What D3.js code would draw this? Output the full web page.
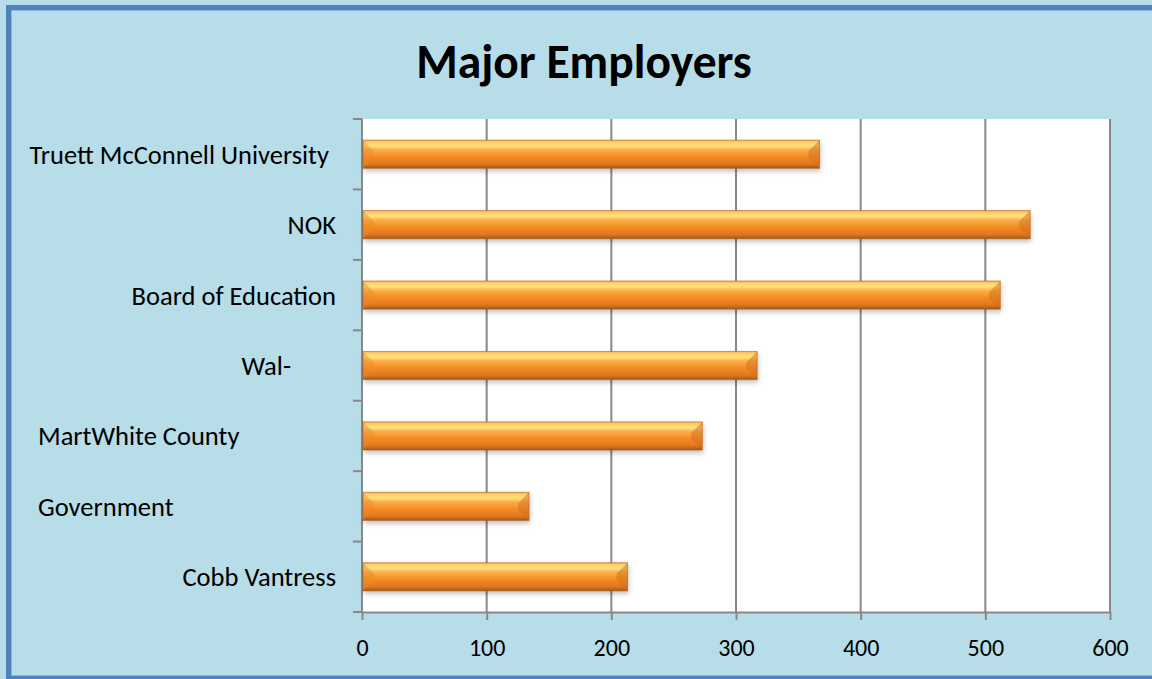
<!DOCTYPE html>
<html>
<head>
<meta charset="utf-8">
<script src="https://cdn.jsdelivr.net/npm/d3@7.9.0/dist/d3.min.js"></script>
<style>
  html, body { margin: 0; padding: 0; background: #b7dde8; overflow: hidden; }
  svg { display: block; font-family: Calibri, Carlito, Lato, sans-serif; }
</style>
</head>
<body>
<svg id="chart" width="1152" height="679"></svg>
<script>
// data, top to bottom as drawn
const employers = ['Truett McConnell University', 'NOK', 'Board of Education', 'Wal-', 'MartWhite County', 'Government', 'Cobb Vantress'];
const workers = [367, 536, 512, 317, 273, 134, 213];
const xTicks = [0, 100, 200, 300, 400, 500, 600];

// the labels in the picture are not all right-aligned (broken wrapping in the original)
const labelAlign = [
  { anchor: 'end', x: 329 },
  { anchor: 'end', x: 336 },
  { anchor: 'end', x: 336 },
  { anchor: 'end', x: 291 },
  { anchor: 'start', x: 38 },
  { anchor: 'start', x: 38 },
  { anchor: 'end', x: 336 }
];

const W = 1152, H = 679;
const plot = { left: 362, top: 119, right: 1110, bottom: 612 };
const gray = '#888888';

const svg = d3.select('#chart');
const defs = svg.append('defs');

// vertical shading of the 3d bars
const grad = defs.append('linearGradient')
  .attr('id', 'barGrad').attr('x1', 0).attr('y1', 0).attr('x2', 0).attr('y2', 1);
[
  [0, '#f9a850'], [0.08, '#ffd46a'], [0.2, '#ffe17c'], [0.35, '#fbac4a'],
  [0.6, '#f58a22'], [0.85, '#e0771f'], [0.95, '#b8641c'], [1, '#8e4e16']
].forEach(([o, c]) => grad.append('stop').attr('offset', o).attr('stop-color', c));

const shadow = defs.append('filter').attr('id', 'shadow')
  .attr('x', '-5%').attr('y', '-30%').attr('width', '110%').attr('height', '180%');
shadow.append('feDropShadow').attr('dx', 1).attr('dy', 3).attr('stdDeviation', 2.5)
  .attr('flood-color', '#000').attr('flood-opacity', 0.25);

// background + frame
svg.append('rect').attr('width', W).attr('height', H).attr('fill', '#b7dde8');
svg.append('rect').attr('x', 8.5).attr('y', 7.5).attr('width', 1300).attr('height', 671)
  .attr('fill', 'none').attr('stroke', '#4f81bd').attr('stroke-width', 5);
svg.append('rect').attr('x', 11.5).attr('y', 10.5).attr('width', 1300).attr('height', 665)
  .attr('fill', 'none').attr('stroke', '#8fb3dc').attr('stroke-width', 1);

// title
svg.append('text')
  .attr('x', 584).attr('y', 78)
  .attr('text-anchor', 'middle')
  .attr('font-size', 47.5).attr('font-weight', 'bold').attr('fill', '#000')
  .text('Major Employers');

const x = d3.scaleLinear().domain([0, 600]).range([plot.left, plot.right]);
const y = d3.scaleBand().domain(employers).range([plot.top, plot.bottom])
  .paddingInner(0.6).paddingOuter(0.3);

// plot area
svg.append('rect')
  .attr('x', plot.left).attr('y', plot.top)
  .attr('width', plot.right - plot.left).attr('height', plot.bottom - plot.top)
  .attr('fill', '#fff');

// vertical gridlines
svg.append('g').selectAll('line')
  .data(xTicks.filter(d => d > 0))
  .join('line')
  .attr('x1', d => x(d)).attr('x2', d => x(d))
  .attr('y1', plot.top).attr('y2', plot.bottom)
  .attr('stroke', gray).attr('stroke-width', 2);

// bottom axis
const xAxis = svg.append('g')
  .attr('transform', `translate(0,${plot.bottom})`)
  .call(d3.axisBottom(x).tickValues(xTicks).tickSize(8).tickPadding(19).tickSizeOuter(0));
xAxis.select('.domain').attr('stroke', gray).attr('stroke-width', 2);
xAxis.selectAll('.tick line').attr('stroke', gray).attr('stroke-width', 2);
xAxis.selectAll('.tick text')
  .attr('font-family', 'Calibri, Carlito, Lato, sans-serif')
  .attr('font-size', 24).attr('fill', '#000');

// left axis: line + tick marks between categories
const step = y.step();
const boundaries = d3.range(employers.length + 1).map(i => plot.top + i * step);
svg.append('line')
  .attr('x1', plot.left).attr('x2', plot.left)
  .attr('y1', plot.top).attr('y2', plot.bottom)
  .attr('stroke', gray).attr('stroke-width', 2);
svg.append('g').selectAll('line')
  .data(boundaries)
  .join('line')
  .attr('x1', plot.left - 9).attr('x2', plot.left)
  .attr('y1', d => d).attr('y2', d => d)
  .attr('stroke', gray).attr('stroke-width', 2);

// category labels
svg.append('g').selectAll('text')
  .data(employers)
  .join('text')
  .attr('x', (d, i) => labelAlign[i].x)
  .attr('y', d => y(d) + y.bandwidth() / 2)
  .attr('dy', '0.36em')
  .attr('text-anchor', (d, i) => labelAlign[i].anchor)
  .attr('font-size', 26.5).attr('fill', '#000')
  .text(d => d);

// bars
const bars = svg.append('g').selectAll('g')
  .data(employers.map((name, i) => ({ name, value: workers[i] })))
  .join('g');

bars.append('rect')
  .attr('x', x(0) + 1)
  .attr('y', d => y(d.name))
  .attr('width', d => x(d.value) - x(0) - 1)
  .attr('height', y.bandwidth())
  .attr('fill', 'url(#barGrad)')
  .attr('filter', 'url(#shadow)');

// bevelled ends
const bev = 11;
bars.append('path')
  .attr('d', d => {
    const x0 = x(0) + 1, y0 = y(d.name), y1 = y0 + y.bandwidth();
    return `M${x0},${y0}L${x0 + bev},${y0 + bev}L${x0 + bev},${y1 - bev}L${x0},${y1}Z`;
  })
  .attr('fill', '#f08a28').attr('opacity', 0.45);
bars.append('path')
  .attr('d', d => {
    const x1 = x(d.value), y0 = y(d.name), y1 = y0 + y.bandwidth();
    return `M${x1},${y0}L${x1 - bev},${y0 + bev}L${x1 - bev},${y1 - bev}L${x1},${y1}Z`;
  })
  .attr('fill', '#d0701e').attr('opacity', 0.5);
bars.append('rect')
  .attr('x', x(0) + 1)
  .attr('y', d => y(d.name))
  .attr('width', d => x(d.value) - x(0) - 1)
  .attr('height', y.bandwidth())
  .attr('fill', 'none').attr('stroke', '#b8631c').attr('stroke-width', 1).attr('stroke-opacity', 0.6);
</script>
</body>
</html>
